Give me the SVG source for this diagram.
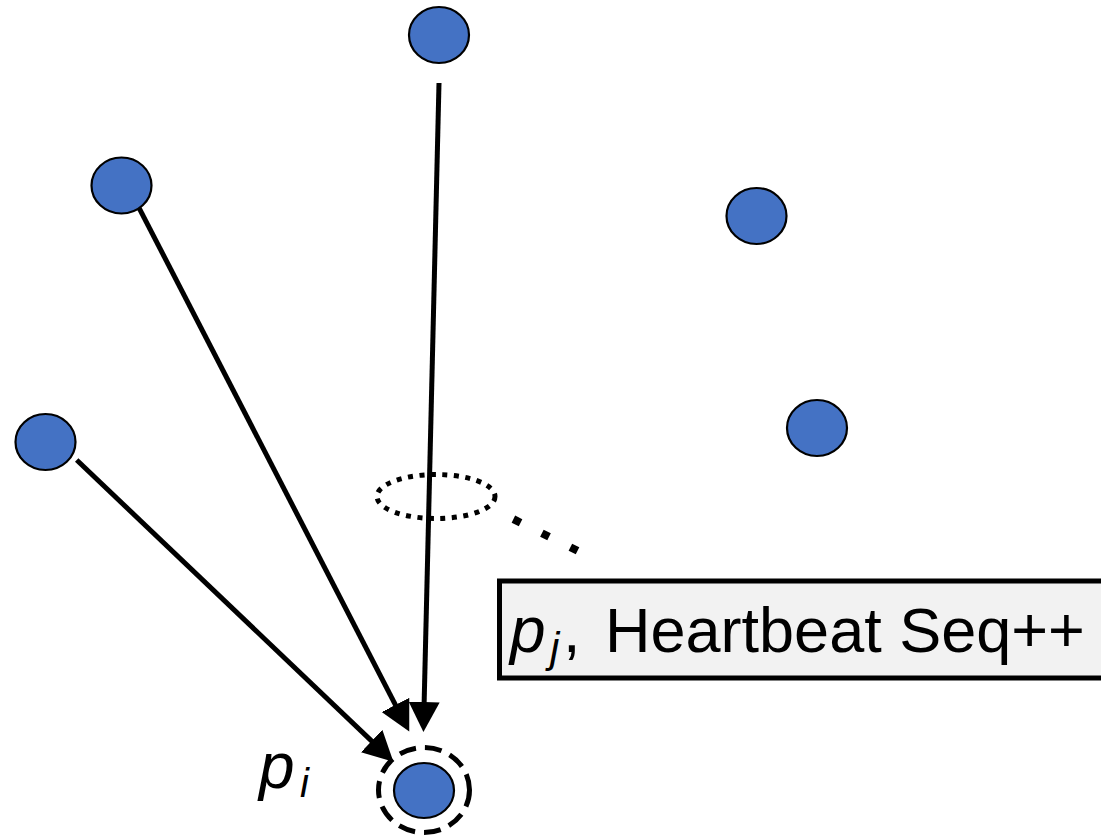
<svg xmlns="http://www.w3.org/2000/svg" width="1101" height="836" viewBox="0 0 1101 836">
<style>
.node{fill:#4472C4;stroke:#000;stroke-width:2.2}
.edge{stroke:#000;stroke-width:5;fill:none;marker-end:url(#ah)}
.lbl{font-family:"Liberation Sans",Arial,sans-serif;fill:#000}
</style>
<defs>
<marker id="ah" markerUnits="userSpaceOnUse" markerWidth="31" markerHeight="31" refX="19" refY="15.5" orient="auto">
<path d="M0,0 L30,15.5 L0,31 z" fill="#000"/>
</marker>
</defs>
<rect width="1101" height="836" fill="#fff"/>
<g id="connectors">
<line class="edge" x1="439" y1="83" x2="423.7" y2="721"/>
<line class="edge" x1="136.7" y1="203.3" x2="404.2" y2="721.8"/>
<line class="edge" x1="76.7" y1="460" x2="385.4" y2="754.1"/>
</g>
<g id="node-top"><ellipse class="node" cx="439" cy="35" rx="30" ry="28"/></g>
<g id="node-left-upper"><ellipse class="node" cx="121.5" cy="185.5" rx="30" ry="28"/></g>
<g id="node-left-lower"><ellipse class="node" cx="45.5" cy="442" rx="30" ry="28"/></g>
<g id="node-right-upper"><ellipse class="node" cx="756.5" cy="216" rx="30" ry="28"/></g>
<g id="node-right-lower"><ellipse class="node" cx="817" cy="428" rx="30" ry="28"/></g>
<g id="node-pi">
<ellipse cx="424" cy="790" rx="45.5" ry="42.5" fill="none" stroke="#000" stroke-width="5" stroke-dasharray="17 9"/>
<ellipse class="node" cx="424" cy="790.5" rx="30" ry="27.5"/>
<text class="lbl"><tspan x="259" y="788" font-size="64" font-style="italic">p</tspan><tspan x="300" y="797" font-size="40" font-style="italic">i</tspan></text>
</g>
<g id="group-marker">
<ellipse cx="436" cy="496.5" rx="59" ry="22" fill="none" stroke="#000" stroke-width="5" stroke-dasharray="5 6.5"/>
<line x1="513.4" y1="519.2" x2="577.6" y2="550.8" stroke="#000" stroke-width="8" stroke-dasharray="8 23.75"/>
</g>
<g id="label-box">
<rect x="499.5" y="581" width="620" height="97" fill="#f2f2f2" stroke="#000" stroke-width="5"/>
<text class="lbl" font-size="63"><tspan x="510" y="652" font-size="64" font-style="italic">p</tspan><tspan x="550" y="662" font-size="42" font-style="italic">j</tspan><tspan x="563" y="652">,</tspan><tspan x="605" y="652">Heartbeat Seq++</tspan></text>
</g>
</svg>
